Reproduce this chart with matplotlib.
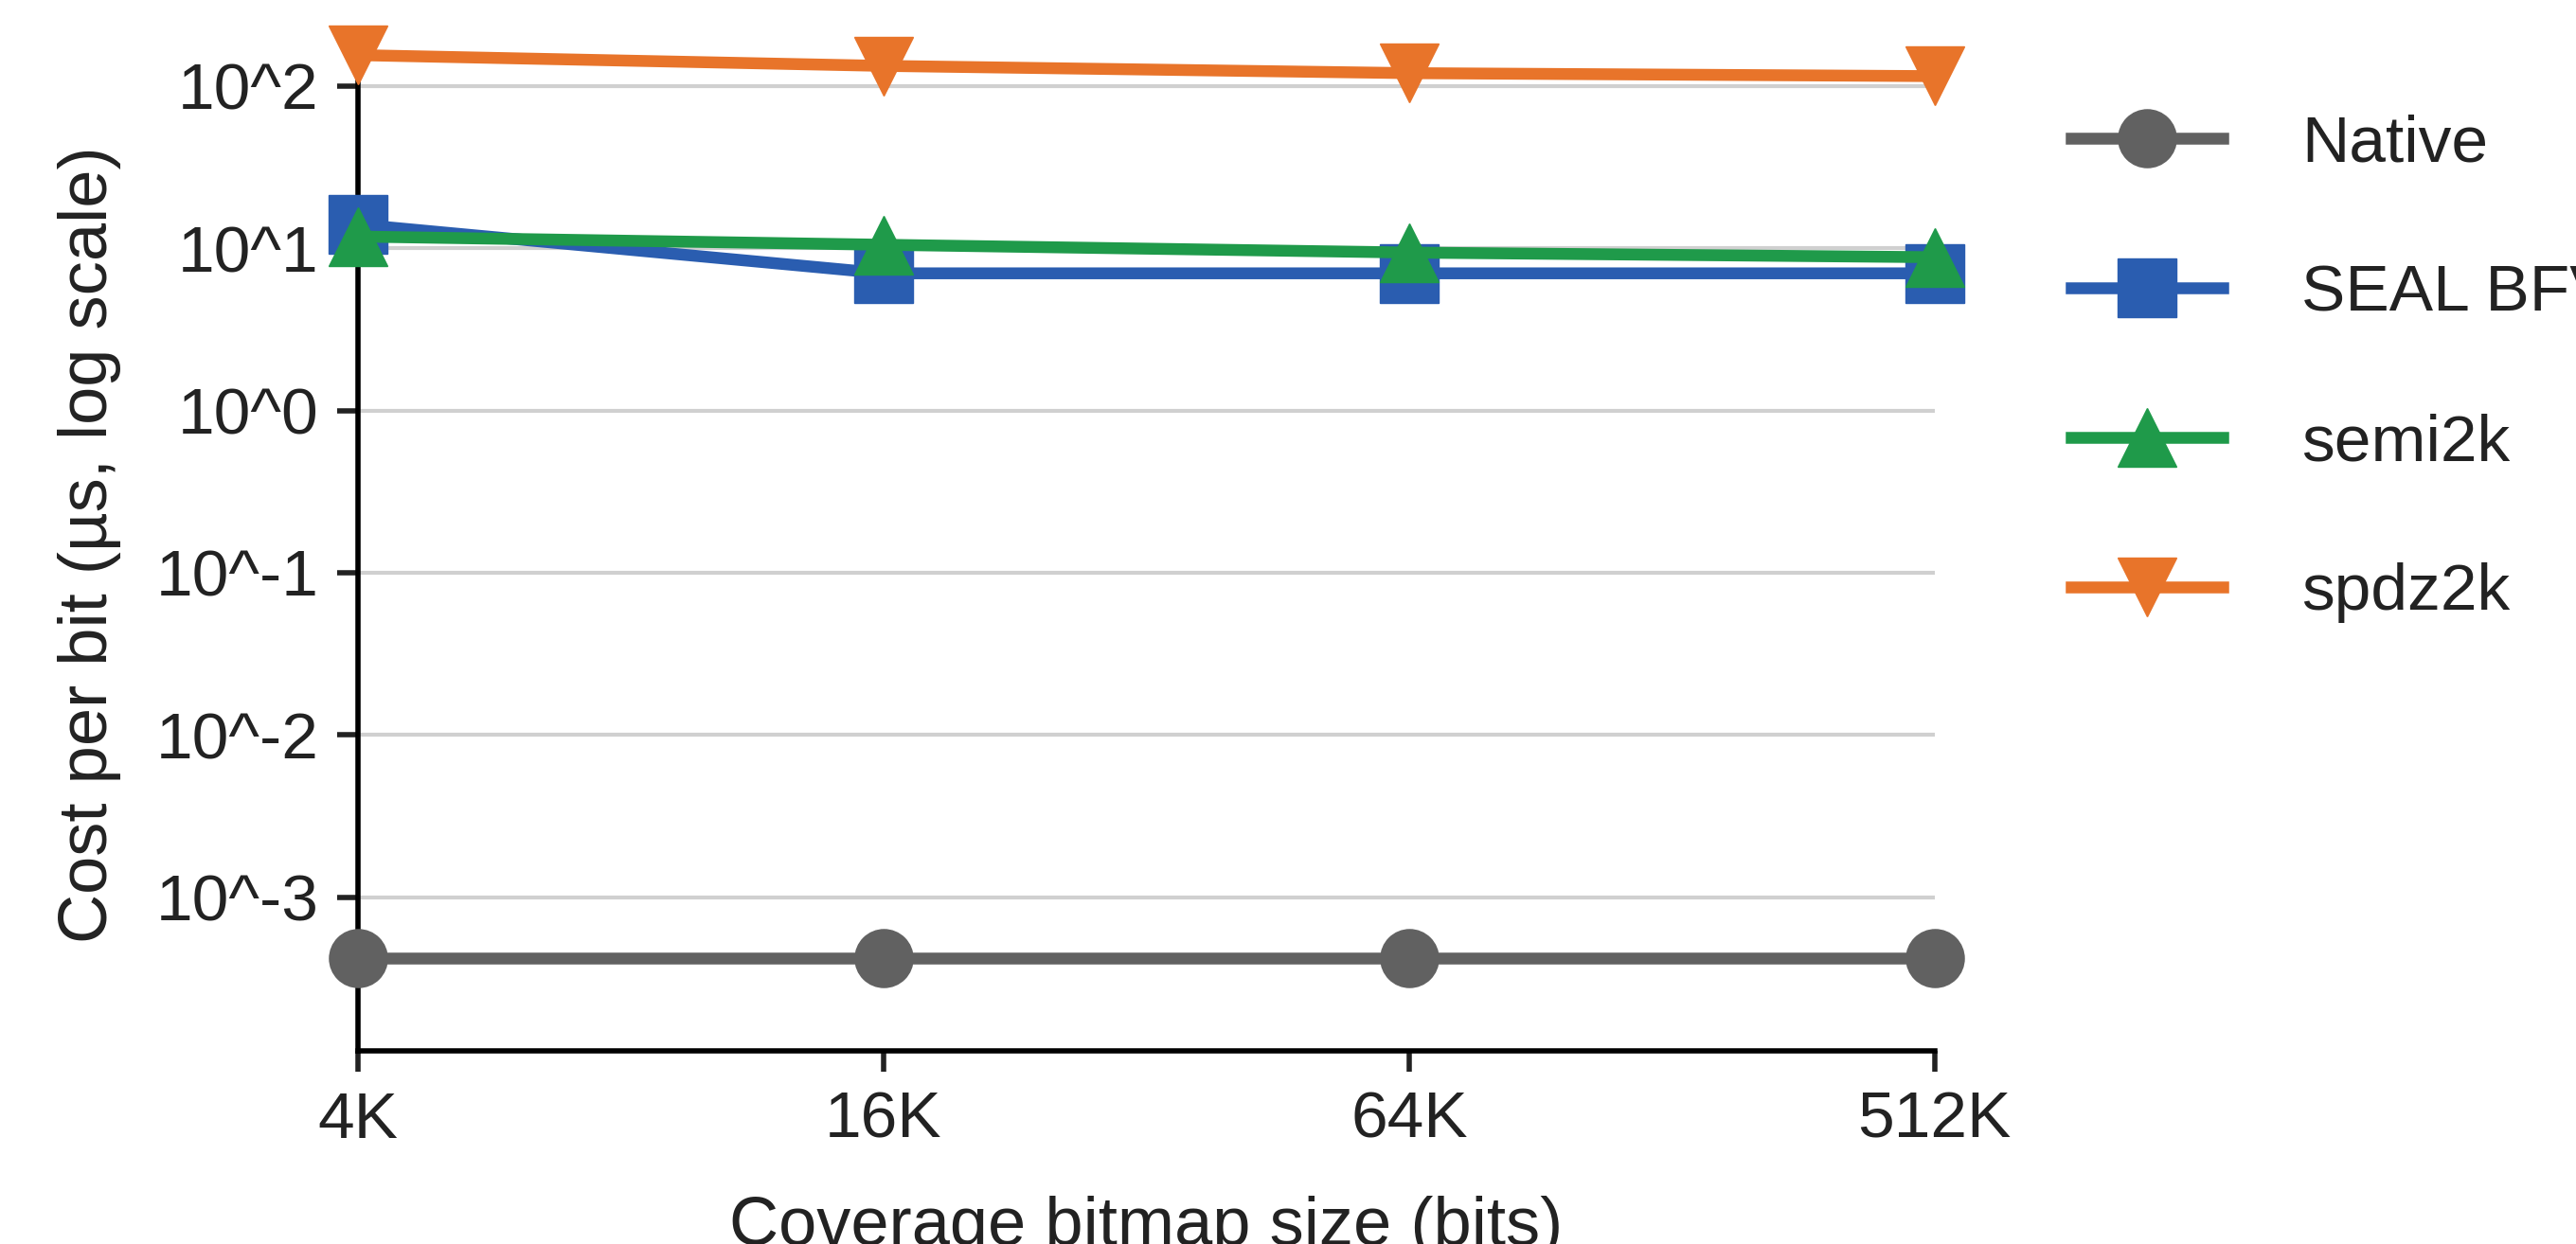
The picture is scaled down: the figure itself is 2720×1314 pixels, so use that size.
import matplotlib.pyplot as plt
import numpy as np

sizes = ["4K", "16K", "64K", "512K"]
native = [0.00042, 0.00042, 0.00042, 0.00042]
seal_bfv = [14.0, 7.0, 7.0, 7.0]
semi2k = [11.8, 10.5, 9.4, 8.8]
spdz2k = [155, 133, 120, 115]

plt.rcParams['font.family'] = ['Liberation Sans', 'DejaVu Sans']
fig = plt.figure(figsize=(27.2, 13.14), dpi=100)
ax = fig.add_axes([0.139, 0.155, 0.612, 0.815])

x = np.arange(len(sizes))
series = [
    ("Native", native, "#616161", "o"),
    ("SEAL BFV", seal_bfv, "#2a5db0", "s"),
    ("semi2k", semi2k, "#1f9a4a", "^"),
    ("spdz2k", spdz2k, "#e8742a", "v"),
]
for name, vals, col, mk in series:
    ax.plot(x, vals, color=col, marker=mk, markersize=44, linewidth=9,
            label=name, clip_on=False, zorder=3)

ax.set_yscale("log")
ax.set_ylim(10**-3.95, 10**2.3)
ax.set_xlim(0, 3)
ticks = [10.0**k for k in range(-3, 3)]
ax.set_yticks(ticks)
ax.set_yticklabels([f"10^{k}" for k in range(-3, 3)])
ax.minorticks_off()
ax.set_xticks(x)
ax.set_xticklabels(sizes)
ax.yaxis.grid(True, color="#d0d0d0", linewidth=3)
ax.set_axisbelow(True)
for s in ["top", "right"]:
    ax.spines[s].set_visible(False)
ax.spines["left"].set_linewidth(4)
ax.spines["bottom"].set_linewidth(4)
ax.tick_params(axis="both", labelsize=50, width=4, length=16, pad=14, colors="#222222")
ax.set_xlabel("Coverage bitmap size (bits)", fontsize=52, labelpad=34, color="#222222")
ax.set_ylabel("Cost per bit (µs, log scale)", fontsize=52, labelpad=26, color="#222222")

ax.legend(loc="upper left", bbox_to_anchor=(1.07, 0.95), frameon=False,
          fontsize=50, labelspacing=1.35, handlelength=2.3, handletextpad=1.2,
          borderaxespad=0, labelcolor="#222222")

fig.savefig("out.png", dpi=100)
